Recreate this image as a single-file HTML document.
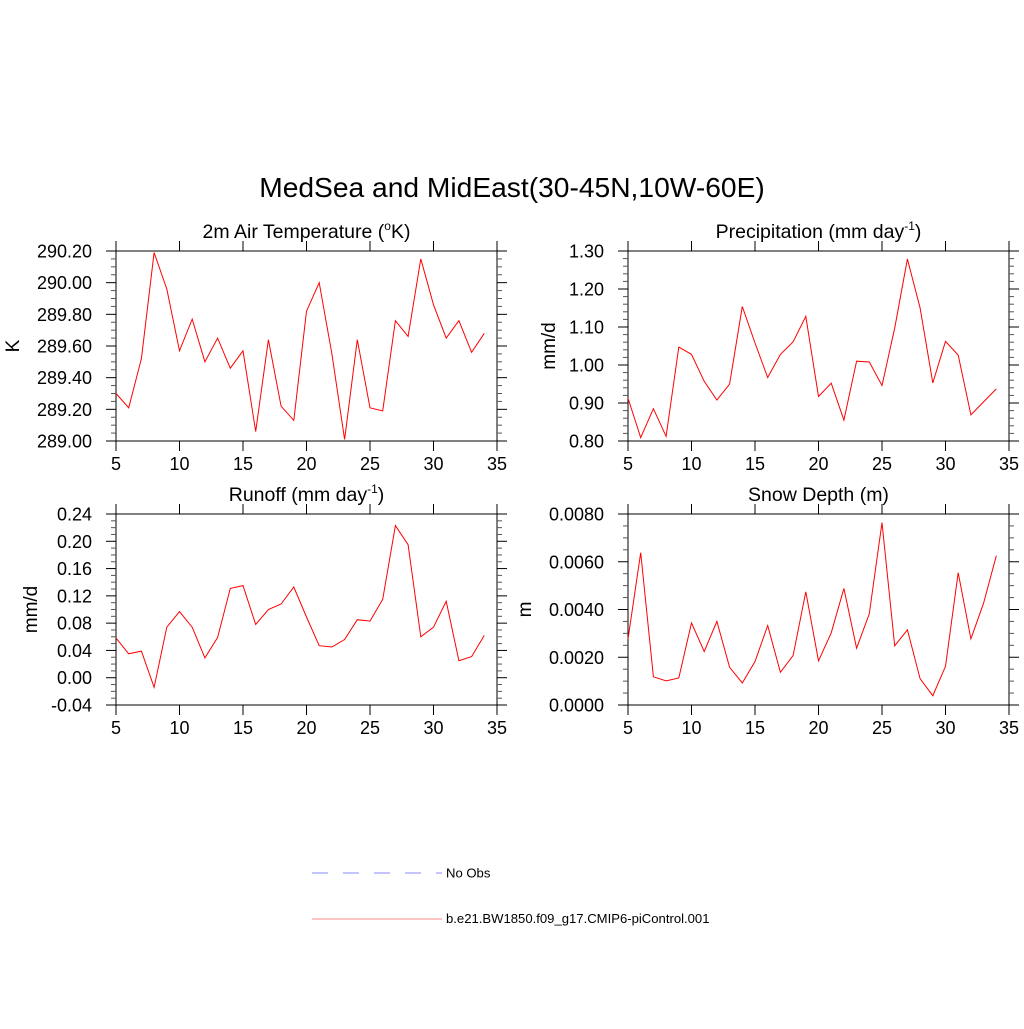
<!DOCTYPE html>
<html><head><meta charset="utf-8">
<style>
html,body{margin:0;padding:0;background:#fff;}
svg text{font-family:"Liberation Sans",Arial,sans-serif;fill:#000;}
</style></head>
<body>
<svg id="c" width="1024" height="1024" viewBox="0 0 1024 1024" xmlns="http://www.w3.org/2000/svg">
<text x="512" y="197" font-size="28.2" text-anchor="middle">MedSea and MidEast(30-45N,10W-60E)</text>
<g id="legend">
<line x1="312" y1="873" x2="442" y2="873" stroke="#a0a0ff" stroke-width="1.2" stroke-dasharray="16,15"/>
<text x="446" y="877.5" font-size="13.1">No Obs</text>
<line x1="312" y1="919" x2="442" y2="919" stroke="#ffa0a0" stroke-width="1.2"/>
<text x="446" y="923" font-size="13.1">b.e21.BW1850.f09_g17.CMIP6-piControl.001</text>
</g>
</svg>
<script>
const years = [5,6,7,8,9,10,11,12,13,14,15,16,17,18,19,20,21,22,23,24,25,26,27,28,29,30,31,32,33,34];
const xTicks = [5,10,15,20,25,30,35];
const tempValues = [289.30,289.21,289.52,290.19,289.96,289.57,289.77,289.50,289.65,289.46,289.57,289.06,289.64,289.22,289.13,289.82,290.00,289.55,289.01,289.64,289.21,289.19,289.76,289.66,290.15,289.86,289.65,289.76,289.56,289.68];
const precValues = [0.913,0.809,0.885,0.812,1.047,1.028,0.957,0.908,0.950,1.154,1.058,0.967,1.028,1.061,1.128,0.917,0.952,0.855,1.010,1.008,0.946,1.097,1.279,1.150,0.953,1.062,1.026,0.869,0.903,0.937];
const runoffValues = [0.058,0.035,0.039,-0.014,0.074,0.097,0.074,0.029,0.059,0.131,0.135,0.078,0.100,0.108,0.133,0.089,0.047,0.045,0.056,0.085,0.083,0.115,0.223,0.195,0.060,0.074,0.112,0.025,0.031,0.062];
const snowValues = [0.00276,0.00638,0.00118,0.00101,0.00113,0.00344,0.00224,0.00350,0.00158,0.00092,0.00182,0.00333,0.00137,0.00207,0.00474,0.00185,0.00302,0.00488,0.00238,0.00382,0.00764,0.00248,0.00315,0.00110,0.00039,0.00162,0.00554,0.00277,0.00427,0.00625];
const tempTicks = [289.0,289.2,289.4,289.6,289.8,290.0,290.2];
const precTicks = [0.8,0.9,1.0,1.1,1.2,1.3];
const runoffTicks = [-0.04,0,0.04,0.08,0.12,0.16,0.20,0.24];
const snowTicks = [0,0.002,0.004,0.006,0.008];

const NS='http://www.w3.org/2000/svg';
const svg=document.getElementById('c');
function mk(tag,attrs,parent){const e=document.createElementNS(NS,tag);for(const k in attrs)e.setAttribute(k,attrs[k]);(parent||svg).appendChild(e);return e;}

function panel(cfg){
  const g=mk('g',{});
  
  
  const L=cfg.x0,R=cfg.x1,T=cfg.y0,B=cfg.y1;
  const xmin=5,xmax=35;
  const ymin=cfg.ticks[0],ymax=cfg.ticks[cfg.ticks.length-1];
  const sx=v=>L+(v-xmin)/(xmax-xmin)*(R-L);
  const sy=v=>B-(v-ymin)/(ymax-ymin)*(B-T);
  const fr=mk('rect',{x:L,y:T,width:R-L,height:B-T,fill:'none',stroke:'#000','stroke-width':1},g);
  
  
  xTicks.forEach(t=>{
    const X=sx(t);
    mk('line',{x1:X,y1:B,x2:X,y2:B+10,stroke:'#000','stroke-width':1},g);
    mk('line',{x1:X,y1:T,x2:X,y2:T-10,stroke:'#000','stroke-width':1},g);
    const tx=mk('text',{x:X,y:B+29,'font-size':18,'text-anchor':'middle'},g);
    tx.textContent=t;
    
    
  });
  const step=cfg.ticks[1]-cfg.ticks[0];
  const mstep=step/cfg.minor;
  for(let i=0;i<cfg.ticks.length-1;i++){
    for(let j=1;j<cfg.minor;j++){
      const Y=sy(cfg.ticks[i]+j*mstep);
      mk('line',{x1:L-5,y1:Y,x2:L,y2:Y,stroke:'#555','stroke-width':1},g);
      mk('line',{x1:R,y1:Y,x2:R+5,y2:Y,stroke:'#555','stroke-width':1},g);
    }
  }
  cfg.ticks.forEach((t,i)=>{
    const Y=sy(t);
    mk('line',{x1:L-10,y1:Y,x2:L,y2:Y,stroke:'#000','stroke-width':1},g);
    mk('line',{x1:R,y1:Y,x2:R+10,y2:Y,stroke:'#000','stroke-width':1},g);
    const tx=mk('text',{x:L-24,y:Y+6.5,'font-size':18,'text-anchor':'end'},g);
    tx.textContent=cfg.labels[i];
    
    
  });
  const pts=years.map((yr,i)=>sx(yr).toFixed(1)+','+sy(cfg.values[i]).toFixed(1)).join(' ');
  const pl=mk('polyline',{points:pts,fill:'none',stroke:'#ff0000','stroke-width':1},g);
  
  
  const ti=mk('text',{x:(L+R)/2,y:T-13,'font-size':19.5,'text-anchor':'middle'},g);
  ti.innerHTML=cfg.title;
  
  
  const yt=mk('text',{x:0,y:0,'font-size':19,'text-anchor':'middle',transform:'translate('+(cfg.ytx)+','+((T+B)/2)+') rotate(-90)'},g);
  yt.textContent=cfg.ytitle;
  
  
}
const sup=s=>'<tspan dy="-8" font-size="12">'+s+'</tspan><tspan dy="8">)</tspan>';
panel({name:'panel-temperature',x0:116,x1:497,y0:251,y1:441,values:tempValues,ticks:tempTicks,labels:tempTicks.map(v=>v.toFixed(2)),minor:4,title:'2m Air Temperature ('+'<tspan dy="-8" font-size="12">o</tspan><tspan dy="8">K)</tspan>',ytitle:'K',ytx:19});
panel({name:'panel-precipitation',x0:628,x1:1009,y0:251,y1:441,values:precValues,ticks:precTicks,labels:precTicks.map(v=>v.toFixed(2)),minor:5,title:'Precipitation (mm day'+sup('-1'),ytitle:'mm/d',ytx:555});
panel({name:'panel-runoff',x0:116,x1:497,y0:514,y1:705,values:runoffValues,ticks:runoffTicks,labels:runoffTicks.map(v=>v.toFixed(2)),minor:4,title:'Runoff (mm day'+sup('-1'),ytitle:'mm/d',ytx:37});
panel({name:'panel-snow-depth',x0:628,x1:1009,y0:514,y1:705,values:snowValues,ticks:snowTicks,labels:snowTicks.map(v=>v.toFixed(4)),minor:4,title:'Snow Depth (m)',ytitle:'m',ytx:531});
</script>
</body></html>
